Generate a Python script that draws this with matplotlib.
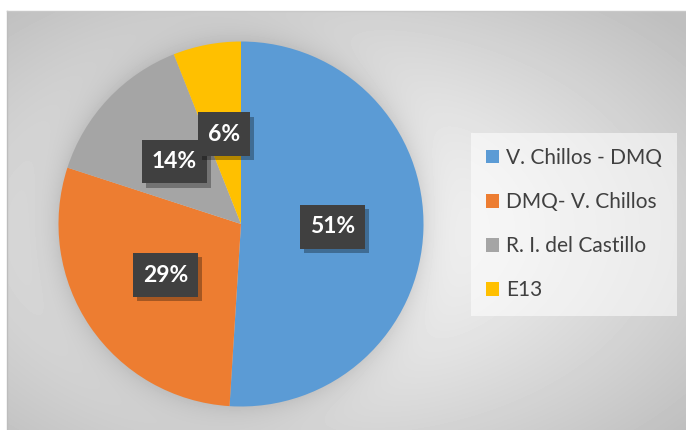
import matplotlib.pyplot as plt
import matplotlib.patheffects as pe
from matplotlib.path import Path
import numpy as np

labels = ['V. Chillos - DMQ', 'DMQ- V. Chillos', 'R. I. del Castillo', 'E13']
values = [51, 29, 14, 6]
colors = ['#5B9BD5', '#ED7D31', '#A5A5A5', '#FFC000']

W, H = 686, 430
fig = plt.figure(figsize=(W / 100, H / 100), dpi=100)
fig.patch.set_facecolor('white')

# background: chart area with radial gradient + soft shadow around the pie
bg = fig.add_axes([0, 0, 1, 1])
bg.set_xlim(0, W)
bg.set_ylim(H, 0)
bg.axis('off')
x0, y0, x1, y1 = 7, 11, W, H
xx, yy = np.meshgrid(np.arange(x0, x1) + 0.5, np.arange(y0, y1) + 0.5)
cx, cy = (x0 + x1) / 2 - 20, (y0 + y1) / 2 + 10
d = np.sqrt(((xx - cx) / ((x1 - x0) / 2)) ** 2 + ((yy - cy) / ((y1 - y0) / 2)) ** 2) / np.sqrt(2)
img = 1.0 - 0.25 * np.clip(d, 0, 1) ** 1.1
pcx, pcy, R = 241, 224, 182.5
dp = np.sqrt((xx - pcx) ** 2 + (yy - pcy) ** 2)
shadow = np.where(dp > R, np.exp(-(dp - R) / 16.0), 1.0)
img = img * (1 - 0.12 * shadow)
bg.imshow(img, cmap='gray', vmin=0, vmax=1, extent=(x0, x1, y1, y0),
          interpolation='bilinear', aspect='auto')
bg.plot([x0, x0], [y0, y1], color='#bdbdbd', lw=1)
bg.plot([x0, x1], [y0, y0], color='#c8c8c8', lw=1)


def label_box(x, y, w, h, mutation_size):
    # wider horizontal padding than vertical, like the Excel data label boxes
    px, py = 0.43 * mutation_size, 0.5 * mutation_size
    verts = [(x - px, y - py), (x + w + px, y - py), (x + w + px, y + h + py),
             (x - px, y + h + py), (x - px, y - py)]
    return Path(verts, closed=True)


# pie
ax = fig.add_axes([(pcx - R) / W, (H - pcy - R) / H, 2 * R / W, 2 * R / H])
wedges, texts, autotexts = ax.pie(values, colors=colors, startangle=90, counterclock=False,
                                  autopct='%1.0f%%', pctdistance=0.5,
                                  wedgeprops=dict(linewidth=0))
ax.set_xlim(-1, 1)
ax.set_ylim(-1, 1)
ax.set_aspect('equal')
for t in autotexts:
    t.set_color('white')
    t.set_fontfamily('Lato')
    t.set_fontweight('bold')
    t.set_fontsize(16.5)
    t.set_bbox(dict(boxstyle=label_box, facecolor='#404040', edgecolor='none'))
    t.get_bbox_patch().set_path_effects([
        pe.SimplePatchShadow(offset=(3, -3), shadow_rgbFace='black', alpha=0.3),
        pe.Normal()])

leg = fig.legend(wedges, labels, loc='upper left', bbox_to_anchor=(471 / W, 1 - 133 / H),
                 borderaxespad=0, frameon=True, fancybox=False, handlelength=0.62,
                 handleheight=0.62, handletextpad=0.35, labelspacing=1.16,
                 borderpad=0.72, prop=dict(family='Lato', size=15))
leg.get_frame().set_facecolor('white')
leg.get_frame().set_alpha(0.55)
leg.get_frame().set_edgecolor('none')
for t in leg.get_texts():
    t.set_color('#404040')

plt.savefig('out.png', dpi=100)
